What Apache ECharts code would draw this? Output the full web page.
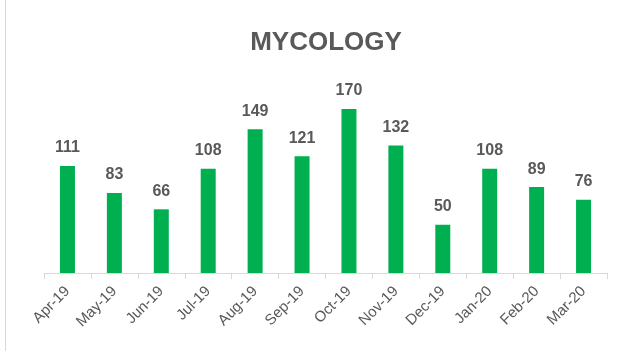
<!DOCTYPE html>
<html>
<head>
<meta charset="utf-8">
<script src="https://cdn.jsdelivr.net/npm/echarts@6/dist/echarts.min.js"></script>
<style>
  html, body { margin: 0; padding: 0; background: #fff; }
  #chart { width: 624px; height: 351px; }
</style>
</head>
<body>
<div id="chart"></div>
<script>
// Monthly counts for the mycology section
const months = ['Apr-19', 'May-19', 'Jun-19', 'Jul-19', 'Aug-19', 'Sep-19',
                'Oct-19', 'Nov-19', 'Dec-19', 'Jan-20', 'Feb-20', 'Mar-20'];
const counts = [111, 83, 66, 108, 149, 121, 170, 132, 50, 108, 89, 76];

const textGray = '#595959';
const fontFam = '"Liberation Sans", Arial, sans-serif';

const chart = echarts.init(document.getElementById('chart'));
chart.setOption({
  animation: false,
  backgroundColor: '#ffffff',
  title: {
    text: 'MYCOLOGY',
    left: 321,
    top: 25,
    textAlign: 'center',
    textStyle: { color: textGray, fontSize: 26, fontWeight: 'bold', fontFamily: fontFam }
  },
  graphic: [{
    type: 'line',
    shape: { x1: 5.5, y1: 0, x2: 5.5, y2: 351 },
    style: { stroke: '#d9d9d9', lineWidth: 1 }
  }],
  grid: { left: 44, right: 17, top: 80, bottom: 78 },
  xAxis: {
    type: 'category',
    data: months,
    axisLine: { lineStyle: { color: '#d9d9d9', width: 1 } },
    axisTick: { show: true, length: 6, alignWithLabel: false, lineStyle: { color: '#d9d9d9' } },
    axisLabel: {
      rotate: 45,
      color: textGray,
      fontSize: 15,
      fontFamily: fontFam,
      margin: 16
    }
  },
  yAxis: {
    type: 'value',
    min: 0,
    max: 200,
    show: false,
    splitLine: { show: false }
  },
  series: [{
    type: 'bar',
    data: counts,
    barWidth: 15,
    itemStyle: { color: '#00B050' },
    label: {
      show: true,
      position: 'top',
      distance: 10,
      color: textGray,
      fontSize: 16,
      fontWeight: 'bold',
      fontFamily: fontFam
    }
  }]
});
</script>
</body>
</html>
